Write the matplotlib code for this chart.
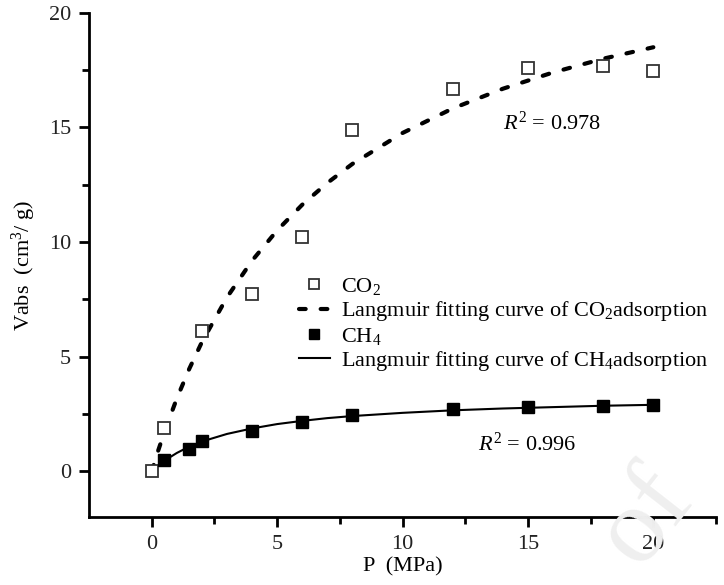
import numpy as np
import matplotlib.pyplot as plt

plt.rcParams['font.family'] = 'serif'
plt.rcParams['font.serif'] = ['Liberation Serif', 'DejaVu Serif']
plt.rcParams['mathtext.fontset'] = 'custom'
plt.rcParams['mathtext.rm'] = 'Liberation Serif'
plt.rcParams['mathtext.it'] = 'Liberation Serif:italic'

# measured points
p_co2 = [0, 0.5, 2, 4, 6, 8, 12, 15, 18, 20]
v_co2 = [0, 1.9, 6.1, 7.75, 10.2, 14.9, 16.7, 17.6, 17.7, 17.45]
p_ch4 = [0.5, 1.5, 2, 4, 6, 8, 12, 15, 18, 20]
v_ch4 = [0.48, 0.98, 1.32, 1.75, 2.15, 2.45, 2.72, 2.82, 2.85, 2.88]

# fitting curves
p_fit = [0, 0.25, 0.5, 1, 1.5, 2, 3, 4, 5, 6, 7, 8, 10, 12, 14, 16, 18, 20]
v_fit_co2 = [0, 0.88, 1.70, 3.18, 4.48, 5.64, 7.59, 9.19, 10.51, 11.63, 12.58,
             13.41, 14.76, 15.83, 16.69, 17.40, 18.0, 18.5]
v_fit_ch4 = [0, 0.25, 0.46, 0.80, 1.08, 1.30, 1.63, 1.87, 2.06, 2.20, 2.32,
             2.41, 2.55, 2.66, 2.74, 2.80, 2.86, 2.90]

fig = plt.figure(figsize=(7.24, 5.85), dpi=100)
ax = fig.add_axes([0.123, 0.116, 0.866, 0.862])

ax.plot(p_fit, v_fit_co2, color='black', lw=3, ls=(0, (1.6, 3.6)),
        dash_capstyle='round', label='Langmuir fitting curve of CO$_2$adsorption', zorder=2)
ax.plot(p_fit, v_fit_ch4, color='black', lw=1.5,
        label='Langmuir fitting curve of CH$_4$adsorption', zorder=2)
ax.plot(p_co2, v_co2, ls='none', marker='s', ms=9, mfc='white', mec='#333333',
        mew=1.3, label='CO$_2$', zorder=3)
ax.plot(p_ch4, v_ch4, ls='none', marker='s', ms=9, mfc='black', mec='black',
        label='CH$_4$', zorder=3)

ax.set_xlim(-2.5, 22.5)
ax.set_ylim(-2, 20)
ax.set_xticks([0, 5, 10, 15, 20])
ax.set_xticks([2.5, 7.5, 12.5, 17.5, 22.5], minor=True)
ax.set_yticks([0, 5, 10, 15, 20])
ax.set_yticks([-2.5, 2.5, 7.5, 12.5, 17.5], minor=True)
ax.set_ylim(-2, 20)

for s in ['top', 'right']:
    ax.spines[s].set_visible(False)
for s in ['left', 'bottom']:
    ax.spines[s].set_linewidth(2)
ax.tick_params(which='major', direction='out', length=7, width=2, labelsize=16,
               colors='black', pad=6)
ax.tick_params(which='minor', direction='out', length=5, width=2)
for lbl in ax.get_xticklabels() + ax.get_yticklabels():
    lbl.set_color('#222222')

ax.set_xlabel('P  (MPa)', fontsize=16, labelpad=2)
ax.set_ylabel('Vabs  (cm$^3$/ g)', fontsize=16, labelpad=8)

ax.text(14.0, 15.2, '$R^2$ = 0.978', fontsize=16, va='center')
ax.text(13.0, 1.2, '$R^2$ = 0.996', fontsize=16, va='center')

h, l = ax.get_legend_handles_labels()
order = [2, 0, 3, 1]
ax.legend([h[i] for i in order], [l[i] for i in order], loc='upper left',
          bbox_to_anchor=(0.397, 0.547), bbox_transform=fig.transFigure,
          frameon=False, fontsize=16, handlelength=1.4, handletextpad=0.5,
          labelspacing=0.1, borderpad=0, markerscale=0.8)

# faint watermark in the lower right corner
fig.text(0.985, 0.005, 'of', fontsize=78, color='#efefef', rotation=52,
         ha='right', va='bottom', zorder=0)

fig.savefig('out.png', dpi=100)
